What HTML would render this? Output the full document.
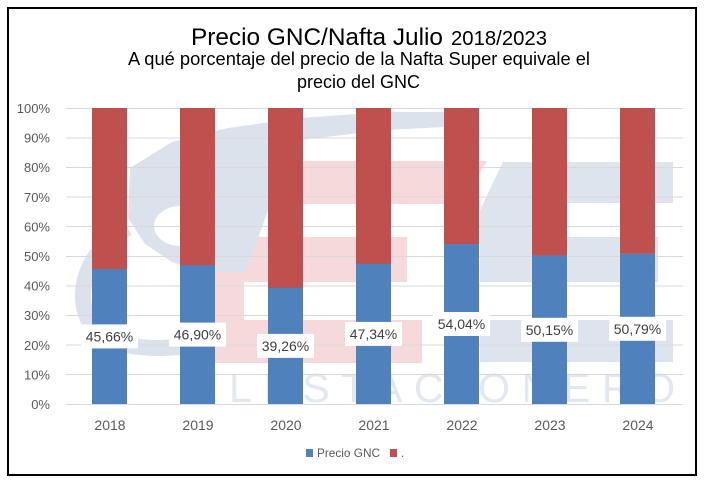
<!DOCTYPE html>
<html><head><meta charset="utf-8"><style>
html,body{margin:0;padding:0;background:#fff;}
svg{display:block;}
text{font-family:"Liberation Sans",Arial,sans-serif;}
</style></head><body>
<svg width="704" height="485" viewBox="0 0 704 485" xmlns="http://www.w3.org/2000/svg">
<rect x="0" y="0" width="704" height="485" fill="#fff"/>
<!-- watermark -->
<g>
  <!-- pink stripes -->
  <polygon points="303,161 487,161 460,204 303,204" fill="#f6d9db"/>
  <rect x="217" y="237" width="190" height="45" fill="#f6d9db"/>
  <rect x="217" y="320" width="205" height="43" fill="#f6d9db"/>
  <rect x="208" y="197" width="36" height="166" fill="#f6d9db"/>
  <!-- blue-gray E -->
  <polygon points="503,162 673,162 673,203 532,203 532,237 658,237 658,282 480,282 480,210" fill="#dde4ed"/>
  <rect x="480" y="320" width="193" height="42" fill="#dde4ed"/>
  <!-- nozzle -->
  <path d="M130,168 L172,142 L228,128 L300,118 L385,112 L445,112 L445,127 L385,130 L300,140 L276,152 L272,200 L258,238 L245,272 L205,272 L172,262 L145,244 L128,218 Z" fill="#dbe2ec"/>
  <ellipse cx="180" cy="226" rx="26" ry="20" fill="#fff"/>
  <path d="M128,228 C 85,250 70,300 95,330 C 120,352 175,352 215,340" fill="none" stroke="#dbe2ec" stroke-width="16"/>
  <!-- watermark text -->
  <text x="190" y="402" font-size="41" fill="#e2e8f0" textLength="485" lengthAdjust="spacing">ELESTACIONERO</text>
</g>
<!-- gridlines -->
<g stroke="#d9d9d9" stroke-width="1">
  <line x1="66" x2="683" y1="108.5" y2="108.5"/>
  <line x1="66" x2="683" y1="138" y2="138"/>
  <line x1="66" x2="683" y1="167.5" y2="167.5"/>
  <line x1="66" x2="683" y1="197" y2="197"/>
  <line x1="66" x2="683" y1="226.5" y2="226.5"/>
  <line x1="66" x2="683" y1="256.5" y2="256.5"/>
  <line x1="66" x2="683" y1="286" y2="286"/>
  <line x1="66" x2="683" y1="315.5" y2="315.5"/>
  <line x1="66" x2="683" y1="345" y2="345"/>
  <line x1="66" x2="683" y1="374.5" y2="374.5"/>
  <line x1="66" x2="683" y1="404.5" y2="404.5"/>
</g>
<!-- y labels -->
<g font-size="13" fill="#595959" text-anchor="end">
  <text x="50" y="113">100%</text>
  <text x="50" y="142.6">90%</text>
  <text x="50" y="172.2">80%</text>
  <text x="50" y="201.8">70%</text>
  <text x="50" y="231.4">60%</text>
  <text x="50" y="261">50%</text>
  <text x="50" y="290.6">40%</text>
  <text x="50" y="320.2">30%</text>
  <text x="50" y="349.8">20%</text>
  <text x="50" y="379.4">10%</text>
  <text x="50" y="409">0%</text>
</g>
<!-- bars -->
<g>
  <rect x="92" y="108" width="35" height="161" fill="#c0504d"/>
  <rect x="92" y="268.85" width="35" height="135.15" fill="#4f81bd"/>
  <rect x="180" y="108" width="35" height="157.5" fill="#c0504d"/>
  <rect x="180" y="265.18" width="35" height="138.82" fill="#4f81bd"/>
  <rect x="268" y="108" width="35" height="180" fill="#c0504d"/>
  <rect x="268" y="287.79" width="35" height="116.21" fill="#4f81bd"/>
  <rect x="356" y="108" width="35" height="156" fill="#c0504d"/>
  <rect x="356" y="263.87" width="35" height="140.13" fill="#4f81bd"/>
  <rect x="444" y="108" width="35" height="136.2" fill="#c0504d"/>
  <rect x="444" y="244.04" width="35" height="159.96" fill="#4f81bd"/>
  <rect x="532" y="108" width="35" height="147.7" fill="#c0504d"/>
  <rect x="532" y="255.56" width="35" height="148.44" fill="#4f81bd"/>
  <rect x="620" y="108" width="35" height="145.8" fill="#c0504d"/>
  <rect x="620" y="253.66" width="35" height="150.34" fill="#4f81bd"/>
</g>
<!-- data labels -->
<g fill="#fff">
  <rect x="81" y="324.4" width="57" height="24"/>
  <rect x="169" y="322.6" width="57" height="24"/>
  <rect x="257" y="333.9" width="57" height="24"/>
  <rect x="345" y="321.9" width="57" height="24"/>
  <rect x="433" y="312" width="57" height="24"/>
  <rect x="521" y="317.8" width="57" height="24"/>
  <rect x="609" y="316.8" width="57" height="24"/>
</g>
<g font-size="14" fill="#404040" text-anchor="middle">
  <text x="109.5" y="341.4">45,66%</text>
  <text x="197.5" y="339.6">46,90%</text>
  <text x="285.5" y="350.9">39,26%</text>
  <text x="373.5" y="338.9">47,34%</text>
  <text x="461.5" y="329">54,04%</text>
  <text x="549.5" y="334.8">50,15%</text>
  <text x="637.5" y="333.8">50,79%</text>
</g>
<!-- x labels -->
<g font-size="14" fill="#595959" text-anchor="middle">
  <text x="110" y="430">2018</text>
  <text x="198" y="430">2019</text>
  <text x="286" y="430">2020</text>
  <text x="374" y="430">2021</text>
  <text x="462" y="430">2022</text>
  <text x="550" y="430">2023</text>
  <text x="638" y="430">2024</text>
</g>
<!-- legend -->
<rect x="306" y="449" width="7" height="8" fill="#4f81bd"/>
<text x="317" y="457" font-size="12" fill="#595959" textLength="63" lengthAdjust="spacingAndGlyphs">Precio GNC</text>
<rect x="390" y="449" width="7" height="8" fill="#c0504d"/>
<text x="401" y="457" font-size="12" fill="#595959">.</text>
<!-- titles -->
<text x="191" y="45" font-size="24" fill="#000" textLength="252" lengthAdjust="spacingAndGlyphs">Precio GNC/Nafta Julio</text>
<text x="451" y="45" font-size="20" fill="#000" textLength="96" lengthAdjust="spacingAndGlyphs">2018/2023</text>
<text x="128" y="65" font-size="18" fill="#000" textLength="462" lengthAdjust="spacingAndGlyphs">A qué porcentaje del precio de la Nafta Super equivale el</text>
<text x="297" y="88" font-size="18" fill="#000" textLength="123" lengthAdjust="spacingAndGlyphs">precio del GNC</text>
<!-- border -->
<rect x="8" y="8" width="688" height="467" fill="none" stroke="#000" stroke-width="2"/>
</svg>
</body></html>
